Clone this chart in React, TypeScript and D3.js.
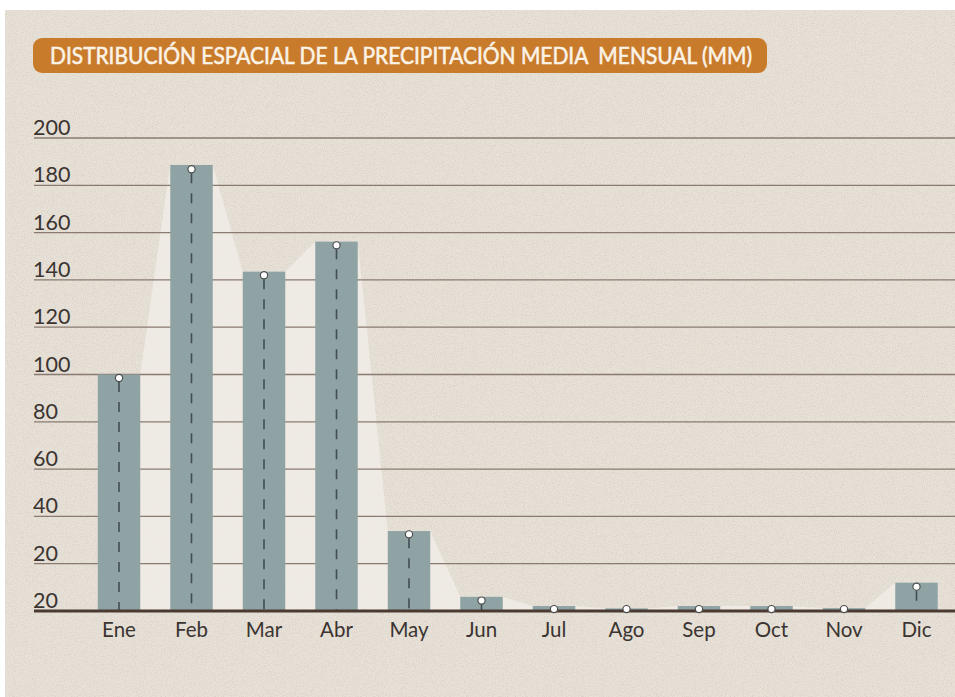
import React from "react";
import * as d3 from "d3";

const months = ["Ene", "Feb", "Mar", "Abr", "May", "Jun", "Jul", "Ago", "Sep", "Oct", "Nov", "Dic"];
const barValues = [100, 188.6, 143.5, 156.2, 33.8, 6.0, 2.1, 1.1, 2.1, 2.1, 1.2, 12];
const pointValues = [98.5, 186.8, 142, 154.6, 32.4, 4.4, 0.8, 0.8, 0.8, 0.8, 0.8, 10.3];
const yTickValues = [0, 20, 40, 60, 80, 100, 120, 140, 160, 180, 200];
const yTickLabels = ["20", "20", "40", "60", "80", "100", "120", "140", "160", "180", "200"];
const title = "DISTRIBUCIÓN ESPACIAL DE LA PRECIPITACIÓN MEDIA  MENSUAL (MM)";

const W = 955;
const H = 697;

export default function App() {
  const x = d3
    .scaleBand<string>()
    .domain(months)
    .range([82.75, 952.75])
    .paddingInner(0.414)
    .paddingOuter(0.207);
  const y = d3.scaleLinear().domain([0, 200]).range([611, 138]);
  const bw = x.bandwidth();

  // light area joining the bar tops at their edges
  const areaPts: [number, number][] = [];
  months.forEach((m, i) => {
    const x0 = x(m) as number;
    areaPts.push([x0, barValues[i]]);
    areaPts.push([x0 + bw, barValues[i]]);
  });
  const area = d3
    .area<[number, number]>()
    .x((d) => d[0])
    .y0(y(0))
    .y1((d) => y(d[1]));

  const textColor = "#3b3431";

  return (
    <div style={{ position: "absolute", left: 0, top: 0 }}>
      <svg width={W} height={H} style={{ display: "block" }}>
        <defs>
          <filter id="paper" x="0" y="0" width="100%" height="100%">
            <feTurbulence type="fractalNoise" baseFrequency="0.9" numOctaves={2} seed={3} result="n" />
            <feColorMatrix
              in="n"
              type="matrix"
              values="0 0 0 0 0.45  0 0 0 0 0.40  0 0 0 0 0.35  0 0 0 -2.2 1.25"
            />
          </filter>
        </defs>
        <rect x={0} y={0} width={W} height={H} fill="#ffffff" />
        <rect x={5} y={10} width={W - 5} height={H - 10} fill="#e7e1d7" />
        <rect x={5} y={10} width={W - 5} height={H - 10} filter="url(#paper)" opacity={0.3} />

        {/* title */}
        <rect x={33} y={38} width={734} height={35} rx={9} fill="#c97b2c" />
        <text
          x={50}
          y={63.5}
          fill="#fbf3e6"
          stroke="#fbf3e6"
          strokeWidth={0.55}
          fontFamily="Lato, sans-serif"
          fontWeight={400}
          fontSize={22.5}
          textLength={702}
          lengthAdjust="spacingAndGlyphs"
          style={{ whiteSpace: "pre" }}
        >
          {title}
        </text>

        {/* light area */}
        <path d={area(areaPts) || ""} fill="#efebe5" opacity={0.9} />

        {/* grid lines */}
        {yTickValues.map((v, i) =>
          v === 0 ? null : (
            <line key={"g" + i} x1={34} x2={W} y1={y(v)} y2={y(v)} stroke="#8a7a70" strokeWidth={1.3} />
          )
        )}

        {/* bars */}
        {months.map((m, i) => (
          <rect
            key={"b" + m}
            x={x(m) as number}
            y={y(barValues[i])}
            width={bw}
            height={y(0) - y(barValues[i])}
            fill="#8fa2a4"
          />
        ))}

        {/* drop lines */}
        {months.map((m, i) => {
          const cx = (x(m) as number) + bw / 2;
          return (
            <line
              key={"d" + m}
              x1={cx}
              x2={cx}
              y1={y(pointValues[i]) + 4}
              y2={y(0)}
              stroke="#414e54"
              strokeWidth={1.6}
              strokeDasharray="10 10"
            />
          );
        })}

        {/* baseline */}
        <line x1={34} x2={W} y1={y(0)} y2={y(0)} stroke="#4a3a31" strokeWidth={3} />

        {/* points */}
        {months.map((m, i) => (
          <circle
            key={"p" + m}
            cx={(x(m) as number) + bw / 2}
            cy={y(pointValues[i])}
            r={3.6}
            fill="#ffffff"
            stroke="#4d4d4d"
            strokeWidth={1.2}
          />
        ))}

        {/* y labels */}
        {yTickValues.map((v, i) => (
          <text
            key={"yl" + i}
            x={33}
            y={y(v) - 3}
            fill={textColor}
            fontFamily="Lato, sans-serif"
            fontSize={21.5}
          >
            {yTickLabels[i]}
          </text>
        ))}

        {/* x labels */}
        {months.map((m) => (
          <text
            key={"xl" + m}
            x={(x(m) as number) + bw / 2}
            y={637}
            textAnchor="middle"
            fill={textColor}
            fontFamily="Lato, sans-serif"
            fontSize={20.5}
          >
            {m}
          </text>
        ))}
      </svg>
    </div>
  );
}
